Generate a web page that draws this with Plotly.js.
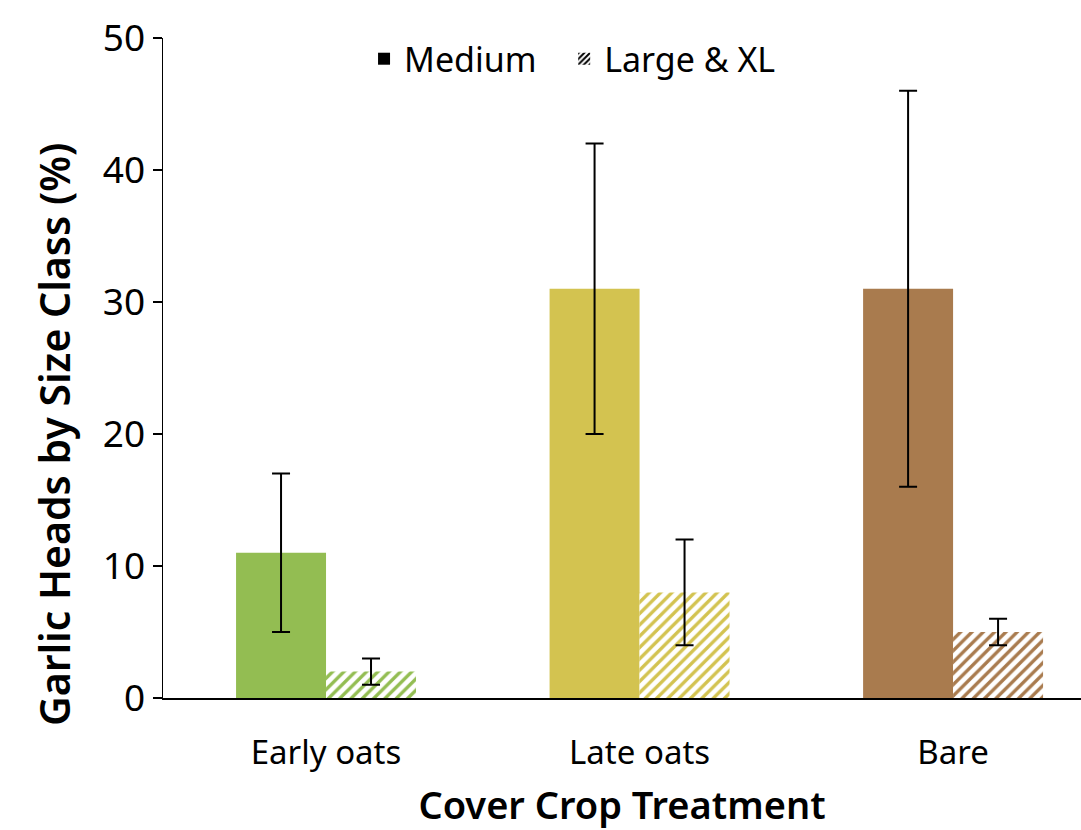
<!DOCTYPE html>
<html>
<head>
<meta charset="utf-8">
<script src="https://cdn.plot.ly/plotly-3.0.1.min.js"></script>
<style>html,body{margin:0;padding:0;background:#fff;}#chart{width:1081px;height:830px;}</style>
</head>
<body>
<div id="chart"></div>
<script>
const categories = ["Early oats", "Late oats", "Bare"];
const mediumValues = [11, 31, 31];
const mediumErrors = [6, 11, 15];
const largeValues = [2, 8, 5];
const largeErrors = [1, 4, 1];
const barColors = ["#93BD52", "#D3C350", "#A97B4E"];
const seriesNames = ["Medium", "Large & XL"];
const xTitle = "Cover Crop Treatment";
const yTitle = "Garlic Heads by Size Class (%)";

const FONT = "Noto Sans, Open Sans, sans-serif";
const BW = 0.287;

const traces = [
  {
    type: "bar", x: categories, y: mediumValues, showlegend: false,
    width: BW, offset: -BW,
    marker: {color: barColors, line: {width: 0}},
    error_y: {type: "data", array: mediumErrors, visible: true, color: "#000", thickness: 2, width: 9},
    hoverinfo: "y"
  },
  {
    type: "bar", x: categories, y: largeValues, showlegend: false,
    width: BW, offset: 0,
    marker: {color: "#ffffff", line: {width: 0},
      pattern: {shape: "/", fgcolor: barColors, bgcolor: "#ffffff", size: 8, solidity: 0.42, fillmode: "replace"}},
    error_y: {type: "data", array: largeErrors, visible: true, color: "#000", thickness: 2, width: 9},
    hoverinfo: "y"
  },
  {
    type: "bar", x: [null], y: [null], name: seriesNames[0], showlegend: true, legend: "legend",
    marker: {color: "#000000"}
  },
  {
    type: "bar", x: [null], y: [null], name: seriesNames[1], showlegend: true, legend: "legend2",
    marker: {color: "#ffffff", pattern: {shape: "/", fgcolor: "#000000", bgcolor: "#ffffff", size: 5, solidity: 0.5}}
  }
];

const legendBase = {orientation: "h", yanchor: "middle", xanchor: "left", y: 0.968,
  font: {size: 34, family: FONT}, itemwidth: 30, bgcolor: "rgba(0,0,0,0)"};

const layout = {
  width: 1081, height: 830,
  margin: {l: 163, r: 0, t: 38, b: 132},
  paper_bgcolor: "#ffffff", plot_bgcolor: "#ffffff",
  barmode: "group", bargap: 0.426, bargroupgap: 0,
  font: {family: FONT, color: "#000"},
  showlegend: true,
  legend: Object.assign({}, legendBase, {x: 0.219}),
  legend2: Object.assign({}, legendBase, {x: 0.437}),
  xaxis: {
    type: "category", range: [-0.52, 2.408],
    showline: true, linecolor: "#000", linewidth: 2,
    ticks: "", showgrid: false, zeroline: false,
    tickfont: {size: 33, family: FONT},
    ticklabelstandoff: 24,
    title: {text: xTitle, font: {size: 38, family: FONT, weight: 600}, standoff: 24}
  },
  yaxis: {
    range: [0, 50], tickvals: [0, 10, 20, 30, 40, 50],
    showline: true, linecolor: "#000", linewidth: 1.5,
    ticks: "outside", ticklen: 9, tickwidth: 1.5, tickcolor: "#000",
    showgrid: false, zeroline: false,
    tickfont: {size: 37, family: FONT}
  },
  annotations: [{
    text: yTitle, textangle: -90, showarrow: false,
    xref: "paper", yref: "paper", x: -0.1187, y: 0.3985,
    xanchor: "center", yanchor: "middle",
    font: {size: 41, family: FONT, weight: 600}
  }]
};

Plotly.newPlot("chart", traces, layout, {displayModeBar: false, staticPlot: true});
</script>
</body>
</html>
